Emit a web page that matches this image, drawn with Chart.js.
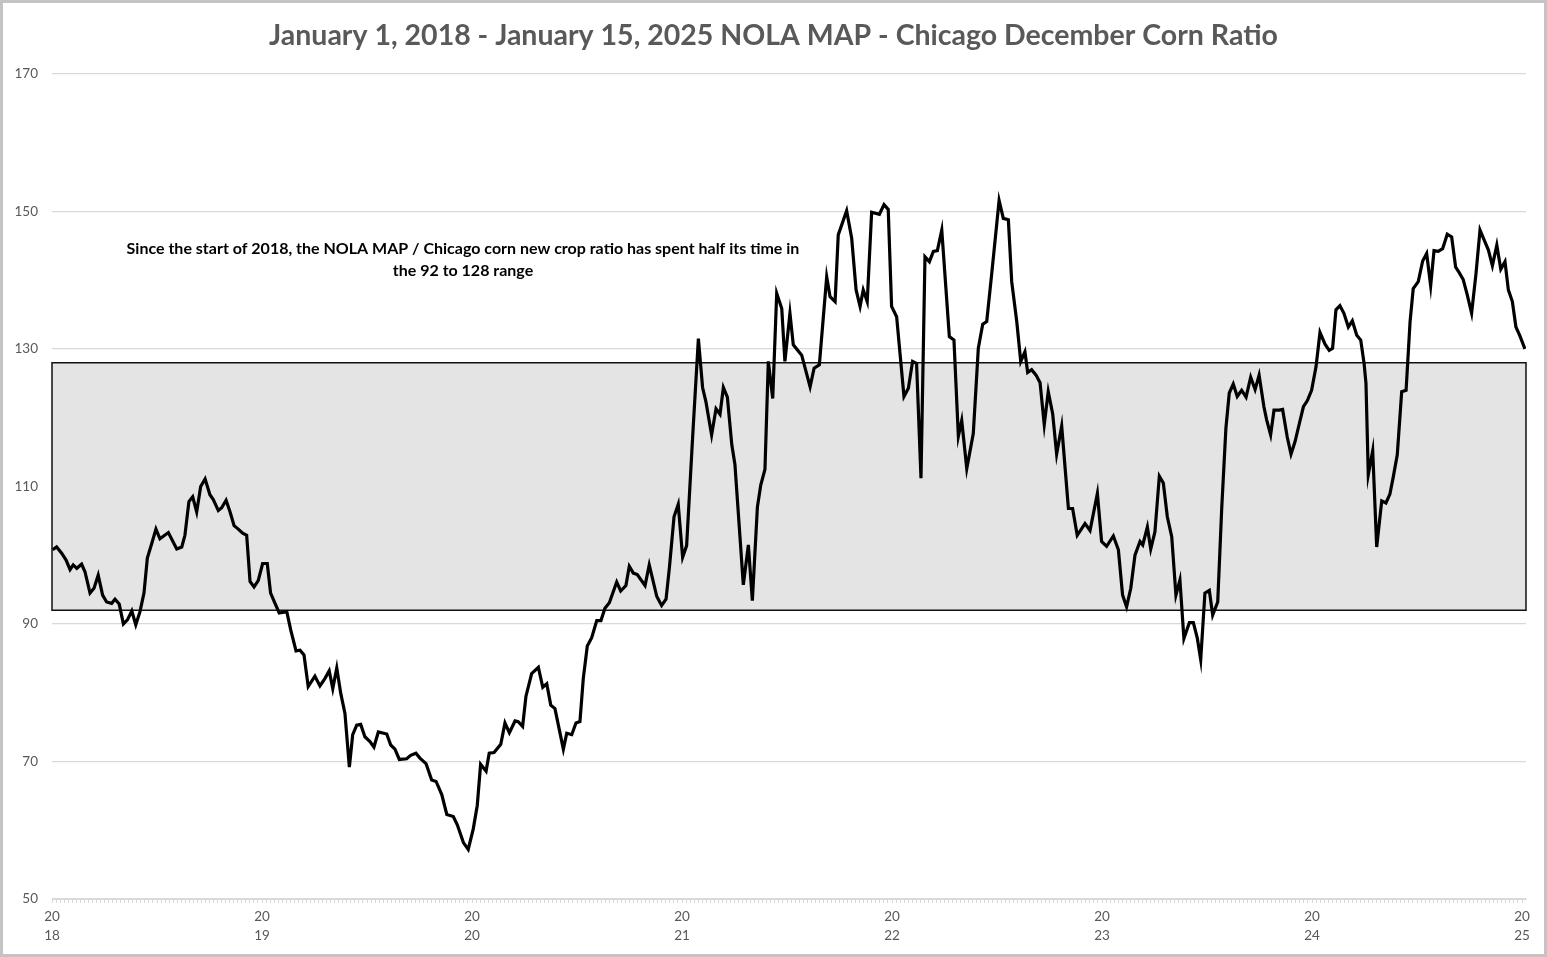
<!DOCTYPE html>
<html>
<head>
<meta charset="utf-8">
<title>NOLA MAP - Chicago December Corn Ratio</title>
<script src="https://cdn.jsdelivr.net/npm/chart.js@4.4.1/dist/chart.umd.min.js"></script>
<style>
  html, body { margin: 0; padding: 0; background: #fff; }
  #wrap { width: 1547px; height: 957px; }
</style>
</head>
<body>
<div id="wrap"><canvas id="ratioChart" width="1547" height="957"></canvas></div>
<script>
// Chart text
const chartTitle = 'January 1, 2018 - January 15, 2025 NOLA MAP - Chicago December Corn Ratio';
const noteLines = [
    'Since the start of 2018, the NOLA MAP / Chicago corn new crop ratio has spent half its time in',
    'the 92 to 128 range'
];

// Band where the ratio spent half its time
const rangeLow = 92;
const rangeHigh = 128;

// Axis settings
const yearLabels = [2018, 2019, 2020, 2021, 2022, 2023, 2024, 2025];
const yTicks = [50, 70, 90, 110, 130, 150, 170];
const xEnd = 2025.019;

// Dates as decimal years
const weekYears = [
    2018.003, 2018.022, 2018.046, 2018.067, 2018.086, 2018.101, 2018.118, 2018.141, 2018.157, 2018.181,
    2018.200, 2018.220, 2018.241, 2018.260, 2018.284, 2018.300, 2018.320, 2018.340, 2018.359, 2018.380,
    2018.399, 2018.419, 2018.438, 2018.454, 2018.475, 2018.495, 2018.514, 2018.554, 2018.594, 2018.618,
    2018.633, 2018.652, 2018.670, 2018.689, 2018.708, 2018.729, 2018.752, 2018.768, 2018.792, 2018.808,
    2018.829, 2018.848, 2018.867, 2018.887, 2018.908, 2018.927, 2018.943, 2018.962, 2018.982,
    2019.003, 2019.025, 2019.041, 2019.062, 2019.082, 2019.118, 2019.137, 2019.162, 2019.181, 2019.200,
    2019.220, 2019.252, 2019.276, 2019.300, 2019.320, 2019.337, 2019.356, 2019.375, 2019.395, 2019.416,
    2019.432, 2019.451, 2019.470, 2019.490, 2019.514, 2019.533, 2019.554, 2019.594, 2019.613, 2019.633,
    2019.654, 2019.689, 2019.708, 2019.733, 2019.752, 2019.781, 2019.808, 2019.829, 2019.856, 2019.880,
    2019.911, 2019.930, 2019.959, 2019.982,
    2020.006, 2020.025, 2020.041, 2020.067, 2020.082, 2020.105, 2020.137, 2020.157, 2020.178, 2020.205,
    2020.220, 2020.241, 2020.257, 2020.284, 2020.316, 2020.337, 2020.356, 2020.375, 2020.395, 2020.435,
    2020.451, 2020.475, 2020.495, 2020.514, 2020.530, 2020.549, 2020.570, 2020.594, 2020.614, 2020.633,
    2020.654, 2020.689, 2020.708, 2020.733, 2020.749, 2020.768, 2020.787, 2020.824, 2020.844, 2020.880,
    2020.903, 2020.924, 2020.940, 2020.962, 2020.982,
    2021.003, 2021.022, 2021.051, 2021.078, 2021.098, 2021.114, 2021.141, 2021.162, 2021.181, 2021.197,
    2021.216, 2021.237, 2021.252, 2021.292, 2021.316, 2021.335, 2021.359, 2021.375, 2021.395, 2021.411,
    2021.432, 2021.451, 2021.475, 2021.490, 2021.514, 2021.530, 2021.570, 2021.610, 2021.629, 2021.654,
    2021.689, 2021.705, 2021.729, 2021.744, 2021.784, 2021.808, 2021.829, 2021.848, 2021.863, 2021.882,
    2021.903, 2021.940, 2021.962, 2021.982, 2021.998,
    2022.022, 2022.057, 2022.078, 2022.098, 2022.117, 2022.138, 2022.157, 2022.178, 2022.197, 2022.216,
    2022.237, 2022.273, 2022.295, 2022.316, 2022.332, 2022.356, 2022.387, 2022.411, 2022.432, 2022.451,
    2022.475, 2022.510, 2022.530, 2022.554, 2022.570, 2022.594, 2022.613, 2022.633, 2022.646, 2022.665,
    2022.686, 2022.705, 2022.725, 2022.744, 2022.765, 2022.784, 2022.808, 2022.840, 2022.860, 2022.882,
    2022.919, 2022.943, 2022.978, 2022.998,
    2023.022, 2023.054, 2023.078, 2023.098, 2023.117, 2023.137, 2023.157, 2023.181, 2023.194, 2023.216,
    2023.232, 2023.252, 2023.273, 2023.292, 2023.311, 2023.332, 2023.352, 2023.371, 2023.390, 2023.416,
    2023.435, 2023.454, 2023.470, 2023.490, 2023.511, 2023.527, 2023.551, 2023.570, 2023.590, 2023.606,
    2023.625, 2023.644, 2023.665, 2023.686, 2023.708, 2023.729, 2023.748, 2023.771, 2023.784, 2023.803,
    2023.819, 2023.844, 2023.860, 2023.882, 2023.900, 2023.919, 2023.940, 2023.959, 2023.978, 2023.998,
    2024.019, 2024.038, 2024.062, 2024.082, 2024.098, 2024.114, 2024.133, 2024.152, 2024.173, 2024.192,
    2024.213, 2024.232, 2024.248, 2024.257, 2024.268, 2024.289, 2024.308, 2024.332, 2024.352, 2024.371,
    2024.387, 2024.406, 2024.427, 2024.448, 2024.467, 2024.482, 2024.506, 2024.527, 2024.546, 2024.565,
    2024.581, 2024.601, 2024.622, 2024.644, 2024.665, 2024.684, 2024.701, 2024.720, 2024.739, 2024.760,
    2024.781, 2024.800, 2024.819, 2024.840, 2024.859, 2024.880, 2024.899, 2024.919, 2024.935, 2024.954,
    2024.971, 2024.990, 2025.014
];

// NOLA MAP / Chicago December corn ratio
const ratioValues = [
    100.8, 101.2, 100.3, 99.3, 97.9, 98.6, 98.1, 98.7, 97.6, 94.5,
    95.2, 97.1, 94.2, 93.2, 93.0, 93.6, 92.9, 90.0, 90.6, 91.9,
    89.9, 91.8, 94.5, 99.6, 101.7, 103.8, 102.4, 103.3, 100.9, 101.2,
    102.9, 107.8, 108.5, 106.3, 110.0, 111.1, 108.8, 108.1, 106.5, 106.9,
    108.0, 106.3, 104.3, 103.8, 103.2, 102.9, 96.2, 95.4, 96.3,
    98.8, 98.8, 94.5, 93.0, 91.6, 91.8, 89.1, 86.1, 86.2, 85.5,
    80.9, 82.4, 81.0, 82.1, 83.2, 80.6, 83.6, 79.9, 77.0, 69.2,
    73.9, 75.3, 75.4, 73.6, 72.9, 72.1, 74.3, 74.0, 72.4, 71.8,
    70.3, 70.4, 70.9, 71.2, 70.5, 69.7, 67.3, 67.1, 65.2, 62.3,
    62.0, 60.8, 58.2, 57.2,
    60.2, 63.6, 69.6, 68.6, 71.2, 71.3, 72.5, 75.6, 74.2, 75.9,
    75.8, 75.1, 79.5, 82.8, 83.7, 80.8, 81.3, 78.2, 77.7, 71.8,
    74.1, 73.9, 75.6, 75.8, 82.1, 86.8, 88.0, 90.5, 90.5, 92.3,
    93.1, 96.1, 94.8, 95.6, 98.4, 97.4, 97.2, 95.6, 98.6, 94.0,
    92.7, 93.6, 98.2, 105.6, 107.4,
    99.7, 101.4, 117.4, 131.5, 124.4, 122.3, 117.5, 121.3, 120.5, 124.4,
    123.0, 116.1, 113.2, 95.7, 101.5, 93.4, 107.0, 110.2, 112.5, 128.2,
    122.8, 138.1, 135.9, 128.2, 135.2, 130.6, 129.1, 124.5, 127.2, 127.7,
    140.5, 137.6, 136.9, 146.6, 150.1, 146.1, 138.6, 136.2, 138.6, 136.9,
    149.9, 149.6, 151.0, 150.3, 136.2,
    134.7, 123.1, 124.3, 128.2, 127.9, 111.2, 143.4, 142.7, 144.2, 144.3,
    147.3, 131.8, 131.3, 117.3, 119.6, 112.6, 117.7, 130.1, 133.6, 134.0,
    141.0, 151.6, 149.0, 148.8, 139.8, 134.0, 128.2, 129.6, 126.6, 127.0,
    126.2, 125.1, 119.0, 123.8, 120.6, 114.7, 118.8, 106.8, 106.8, 102.9,
    104.6, 103.6, 109.0, 102.0,
    101.3, 102.8, 100.8, 94.2, 92.5, 95.2, 100.0, 102.0, 101.5, 104.1,
    100.9, 103.4, 111.5, 110.5, 105.6, 102.7, 94.2, 96.4, 87.9, 90.2,
    90.2, 87.9, 84.8, 94.5, 94.9, 91.3, 93.2, 106.8, 118.5, 123.6,
    124.9, 123.1, 124.0, 123.0, 125.9, 124.1, 126.2, 121.6, 119.7, 117.5,
    121.1, 121.1, 121.2, 117.2, 114.7, 116.5, 119.2, 121.6, 122.5, 124.0,
    127.4, 132.4, 130.7, 129.8, 130.1, 135.7, 136.3, 135.2, 133.2, 134.1,
    132.0, 131.3, 127.9, 125.0, 111.7, 115.2, 101.2, 107.9, 107.6, 108.9,
    111.4, 114.6, 123.8, 124.0, 134.0, 138.8, 139.8, 142.8, 143.9, 139.2,
    144.3, 144.2, 144.6, 146.7, 146.3, 141.9, 141.1, 140.1, 137.9, 135.2,
    141.0, 147.3, 145.9, 144.4, 142.1, 145.1, 141.6, 142.7, 138.6, 136.9,
    133.2, 131.9, 130.0
];

// where the note sits, in chart units
const noteYear = 2019.957;
const noteValue = 144.5;

const textGray = '#595959';
const gridGray = '#d9d9d9';

// white page + thin frame like the Excel chart box
const framePlugin = {
    id: 'frame',
    beforeDraw(chart) {
        const c = chart.ctx;
        c.save();
        c.fillStyle = '#fff';
        c.fillRect(0, 0, chart.width, chart.height);
        c.strokeStyle = '#c4c4c4';
        c.lineWidth = 3;
        c.strokeRect(1.5, 1.5, chart.width - 3, chart.height - 3);
        c.restore();
    },
    afterDraw(chart) {
        const c = chart.ctx;
        c.save();
        c.fillStyle = textGray;
        c.font = 'bold 28.5px Lato';
        c.textAlign = 'center';
        c.textBaseline = 'middle';
        c.fillText(chartTitle, chart.width / 2, 36);
        c.restore();
    }
};

// the grey 92-128 box and its note, drawn under the line
const bandPlugin = {
    id: 'band',
    beforeDatasetsDraw(chart) {
        const { ctx, chartArea, scales } = chart;
        const top = scales.y.getPixelForValue(rangeHigh);
        const bottom = scales.y.getPixelForValue(rangeLow);
        ctx.save();
        ctx.fillStyle = '#e4e4e4';
        ctx.fillRect(chartArea.left, top, chartArea.right - chartArea.left, bottom - top);
        ctx.strokeStyle = '#111';
        ctx.lineWidth = 1.5;
        ctx.strokeRect(chartArea.left, top, chartArea.right - chartArea.left, bottom - top);

        ctx.fillStyle = '#000';
        ctx.font = 'bold 16px Lato';
        ctx.textAlign = 'center';
        ctx.textBaseline = 'middle';
        const nx = scales.x.getPixelForValue(noteYear);
        const ny = scales.y.getPixelForValue(noteValue);
        noteLines.forEach((line, i) => ctx.fillText(line, nx, ny + i * 22));
        ctx.restore();
    }
};

const points = weekYears.map((yr, i) => ({ x: yr, y: ratioValues[i] }));

new Chart(document.getElementById('ratioChart'), {
    type: 'line',
    data: {
        datasets: [{
            label: 'NOLA MAP / Chicago December corn',
            data: points,
            borderColor: '#000',
            borderWidth: 3.2,
            pointRadius: 0,
            tension: 0,
            fill: false
        }]
    },
    options: {
        responsive: false,
        animation: false,
        layout: { padding: { top: 74, right: 21, bottom: 0, left: 0 } },
        plugins: {
            legend: { display: false },
            tooltip: { enabled: false },
            title: { display: false }
        },
        scales: {
            x: {
                type: 'linear',
                min: yearLabels[0],
                max: xEnd,
                afterFit(scale) { scale.height = 58; },
                afterBuildTicks(scale) {
                    // one small tick a week, labels only on the new year
                    const ticks = [];
                    yearLabels.forEach(yr => {
                        for (let k = 0; k < 52; k++) {
                            const v = yr + k / 52;
                            if (v <= xEnd) ticks.push({ value: v });
                        }
                    });
                    scale.ticks = ticks;
                },
                ticks: {
                    autoSkip: false,
                    maxRotation: 0,
                    minRotation: 0,
                    padding: 5,
                    color: textGray,
                    font: { family: 'Lato', size: 13.5, lineHeight: 1.35 },
                    callback: v => yearLabels.includes(v) ? ['20', String(v).slice(2)] : ''
                },
                grid: { drawOnChartArea: false, drawTicks: true, tickLength: 4, color: gridGray },
                border: { display: true, color: gridGray }
            },
            y: {
                min: yTicks[0],
                max: yTicks[yTicks.length - 1],
                afterFit(scale) { scale.width = 52; },
                afterBuildTicks(scale) {
                    scale.ticks = yTicks.map(v => ({ value: v }));
                },
                ticks: {
                    padding: 14,
                    color: textGray,
                    font: { family: 'Lato', size: 13.5 }
                },
                grid: { color: gridGray, lineWidth: 1.2, drawTicks: false },
                border: { display: false }
            }
        }
    },
    plugins: [framePlugin, bandPlugin]
});
</script>
</body>
</html>
